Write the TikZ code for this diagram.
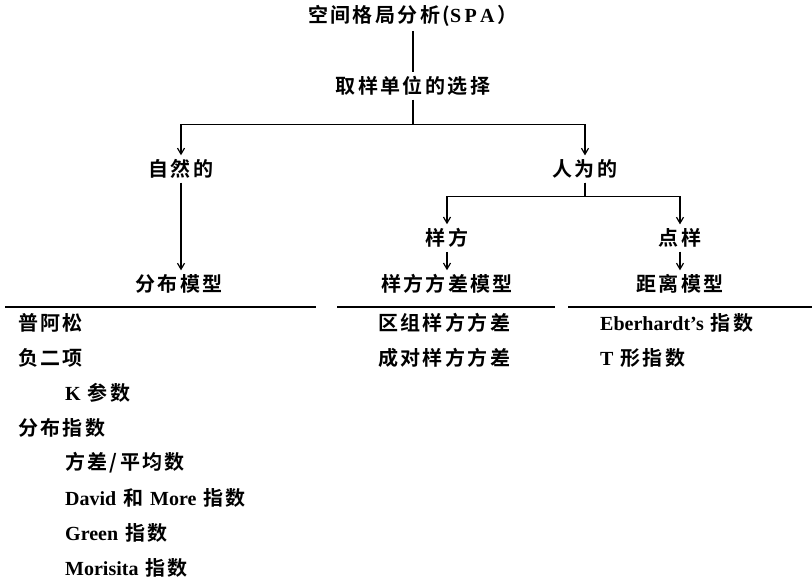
\documentclass[tikz,border=0pt]{standalone}
\usepackage{fontspec}
\setmainfont{Liberation Serif}
\newfontfamily\cjfont{Noto Sans CJK SC}[LetterSpace=12, BoldFont={Noto Sans CJK SC Bold}]
\usetikzlibrary{positioning,arrows.meta}
\newcommand{\en}[1]{{\rmfamily\bfseries #1}}
\tikzstyle{lbl} = [inner sep=4pt, font=\fontsize{20}{24}\selectfont\cjfont\bfseries]
\tikzstyle{item} = [lbl, anchor=west, inner sep=0pt]
\tikzstyle{arrow} = [line width=1.2pt, -{Straight Barb[length=6pt,width=7pt]}]
\tikzstyle{link} = [line width=1.2pt]
\tikzstyle{rule} = [line width=1.5pt]

\begin{document}
\begin{tikzpicture}[x=1pt, y=-1pt]
	\useasboundingbox (0,0) rectangle (812,580);

	% Top of the tree
	\node[lbl] (spa) at (413,16) {空间格局分析(\en{S\,P\,A}\,）};
	\node[lbl] (choice) at (413,86) {取样单位的选择};

	% Kinds of sampling unit
	\node[lbl] (natural) at (181,169) {自然的};
	\node[lbl] (artificial) at (585,169) {人为的};
	\node[lbl] (quadrat) at (447,238) {样方};
	\node[lbl] (point) at (680,238) {点样};

	% Models
	\node[lbl] (distrib) at (179,284) {分布模型};
	\node[lbl] (quadvar) at (447,284) {样方方差模型};
	\node[lbl] (distance) at (680,284) {距离模型};

	% Arrows
	\draw[link] (spa) -- (choice);
	\draw[arrow] (choice.south) -- ++(0,25) -| (natural);
	\draw[arrow] (choice.south) -- ++(0,25) -| (artificial);
	\draw[arrow] (natural) -- (natural |- distrib.north);
	\draw[arrow] (artificial.south) -- ++(0,14) -| (quadrat);
	\draw[arrow] (artificial.south) -- ++(0,14) -| (point);
	\draw[arrow] (quadrat) -- (quadvar);
	\draw[arrow] (point) -- (distance);

	% Rules under the models
	\draw[rule] (5,307) -- (316,307);
	\draw[rule] (337,307) -- (555,307);
	\draw[rule] (568,307) -- (812,307);

	% Distribution models
	\node[item] (poisson) at (18,323) {普阿松};
	\node[item] (negbin) at (18,358) {负二项};
	\node[item] (kpar) at (65,393) {\en{K} 参数};
	\node[item] (dindex) at (18,428) {分布指数};
	\node[item] (varmean) at (65,463) {方差/平均数};
	\node[item] (david) at (65,498) {\en{David} 和 \en{More} 指数};
	\node[item] (green) at (65,533) {\en{Green} 指数};
	\node[item] (morisita) at (65,568) {\en{Morisita} 指数};

	% Quadrat variance models
	\node[item] (blockvar) at (378,323) {区组样方方差};
	\node[item] (pairvar) at (378,358) {成对样方方差};

	% Distance models
	\node[item] (eber) at (600,323) {\en{Eberhardt's} 指数};
	\node[item] (tsquare) at (600,358) {\en{T} 形指数};
\end{tikzpicture}
\end{document}
